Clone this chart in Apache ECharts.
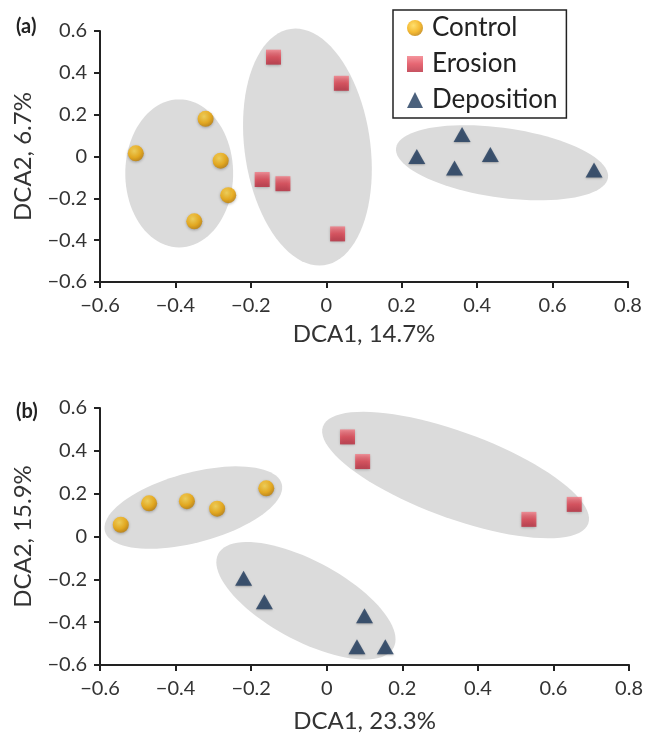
<!DOCTYPE html>
<html>
<head>
<meta charset="utf-8">
<script src="https://cdn.jsdelivr.net/npm/echarts@6/dist/echarts.min.js"></script>
<style>
  html, body { margin: 0; padding: 0; background: #fff; }
  #root { width: 646px; height: 736px; }
</style>
</head>
<body>
<div id="root"></div>
<script>
// 数据 (a)
const controlA = [[-0.505, 0.015], [-0.32, 0.18], [-0.28, -0.02], [-0.26, -0.185], [-0.35, -0.31]];
const erosionA = [[-0.14, 0.475], [0.04, 0.35], [-0.17, -0.11], [-0.115, -0.13], [0.03, -0.37]];
const depositionA = [[0.24, 0.0], [0.36, 0.105], [0.34, -0.055], [0.435, 0.01], [0.71, -0.065]];

// 数据 (b)
const controlB = [[-0.545, 0.055], [-0.47, 0.155], [-0.37, 0.165], [-0.29, 0.13], [-0.16, 0.225]];
const erosionB = [[0.055, 0.465], [0.095, 0.35], [0.535, 0.08], [0.655, 0.15]];
const depositionB = [[-0.22, -0.195], [-0.165, -0.305], [0.1, -0.37], [0.08, -0.515], [0.155, -0.515]];

// 椭圆: 中心, 半轴向量 u, 半轴向量 v (数据单位)
const ellipsesA = [
  [-0.39, -0.081, 0, 0.354, 0.143, 0],
  [-0.05, 0.045, -0.044, 0.565, 0.165, 0.042],
  [0.466, -0.03, 0.281, -0.071, -0.013, -0.165]
];
const ellipsesB = [
  [-0.353, 0.135, 0.234, 0.110, -0.023, 0.158],
  [-0.055, -0.30, 0.232, -0.219, -0.049, -0.165],
  [0.341, 0.287, 0.351, -0.227, -0.039, -0.189]
];

const xTicks = { min: -0.6, max: 0.8, interval: 0.2 };
const yTicks = { min: -0.6, max: 0.6, interval: 0.2 };
const xNames = ['DCA1, 14.7%', 'DCA1, 23.3%'];
const yNames = ['DCA2, 6.7%', 'DCA2, 15.9%'];
const panelTags = ['(a)', '(b)'];

const FONT = 'Lato';

let myChart = echarts.init(document.querySelector('#root'));

function fmt(v) {
  if (Math.abs(v) < 1e-9) return '0';
  return v.toFixed(1).replace('-', '\u2212');
}

function axisCommon() {
  return {
    axisLine: { onZero: false, lineStyle: { color: '#222', width: 2 } },
    axisTick: { show: true, length: 6, lineStyle: { color: '#222', width: 2 } },
    splitLine: { show: false },
    axisLabel: { color: '#333', fontSize: 20, fontFamily: FONT, formatter: fmt },
    nameTextStyle: { color: '#333', fontSize: 24, fontFamily: FONT }
  };
}

function renderEllipse(params, api) {
  const cx = api.value(0), cy = api.value(1);
  const ux = api.value(2), uy = api.value(3);
  const vx = api.value(4), vy = api.value(5);
  const pts = [];
  for (let i = 0; i < 90; i++) {
    const t = i / 90 * Math.PI * 2;
    pts.push(api.coord([cx + ux * Math.cos(t) + vx * Math.sin(t), cy + uy * Math.cos(t) + vy * Math.sin(t)]));
  }
  return {
    type: 'polygon',
    shape: { points: pts },
    style: { fill: '#dbdbdb' }
  };
}

const circleStyle = {
  color: new echarts.graphic.RadialGradient(0.4, 0.35, 0.7, [
    { offset: 0, color: '#ffd84a' },
    { offset: 0.6, color: '#f2a900' },
    { offset: 1, color: '#b87800' }
  ]),
  shadowColor: 'rgba(0,0,0,0.35)', shadowBlur: 3, shadowOffsetY: 1
};
const squareStyle = {
  color: new echarts.graphic.LinearGradient(0, 0, 0, 1, [
    { offset: 0, color: '#f27b85' },
    { offset: 0.5, color: '#e0404f' },
    { offset: 1, color: '#b8283a' }
  ]),
  shadowColor: 'rgba(0,0,0,0.35)', shadowBlur: 3, shadowOffsetY: 1
};
const triStyle = {
  color: '#1e3a5c',
  shadowColor: 'rgba(0,0,0,0.3)', shadowBlur: 2, shadowOffsetY: 1
};

function panelSeries(idx, ctrl, ero, dep, ells) {
  return [
    { type: 'custom', xAxisIndex: idx, yAxisIndex: idx, data: ells, renderItem: renderEllipse, z: 1, silent: true },
    { name: 'Control', type: 'scatter', xAxisIndex: idx, yAxisIndex: idx, data: ctrl, symbol: 'circle', symbolSize: 16, itemStyle: circleStyle, z: 3 },
    { name: 'Erosion', type: 'scatter', xAxisIndex: idx, yAxisIndex: idx, data: ero, symbol: 'rect', symbolSize: 15, itemStyle: squareStyle, z: 3 },
    { name: 'Deposition', type: 'scatter', xAxisIndex: idx, yAxisIndex: idx, data: dep, symbol: 'triangle', symbolSize: [17, 15], itemStyle: triStyle, z: 3 }
  ];
}

const nameGapX = [40, 44];

let option = {
  backgroundColor: '#fff',
  animation: false,
  title: [
    { text: panelTags[0], left: 11, top: 12, textStyle: { fontSize: 20, fontWeight: 'bold', fontFamily: FONT, color: '#222' } },
    { text: panelTags[1], left: 11, top: 397, textStyle: { fontSize: 20, fontWeight: 'bold', fontFamily: FONT, color: '#222' } }
  ],
  legend: {
    data: ['Control', 'Erosion', 'Deposition'],
    orient: 'vertical',
    left: 393, top: 10,
    padding: [5, 9, 5, 14],
    itemGap: 10,
    itemWidth: 16, itemHeight: 16,
    borderColor: '#222', borderWidth: 1.5,
    backgroundColor: '#fff',
    textStyle: { fontSize: 26, fontFamily: FONT, color: '#222', padding: [0, 0, 0, 4] }
  },
  grid: [
    { left: 100, top: 31, width: 528, height: 251 },
    { left: 100, top: 408, width: 532, height: 257 }
  ],
  xAxis: [0, 1].map(i => {
    const a = Object.assign(axisCommon(), {
      gridIndex: i, type: 'value', min: xTicks.min, max: xTicks.max, interval: xTicks.interval,
      name: xNames[i], nameLocation: 'middle', nameGap: nameGapX[i]
    });
    a.axisLabel.margin = 14;
    return a;
  }),
  yAxis: [0, 1].map(i => {
    const a = Object.assign(axisCommon(), {
      gridIndex: i, type: 'value', min: yTicks.min, max: yTicks.max, interval: yTicks.interval,
      name: yNames[i], nameLocation: 'middle', nameGap: 65
    });
    a.axisLabel.margin = 13;
    return a;
  }),
  series: [].concat(
    panelSeries(0, controlA, erosionA, depositionA, ellipsesA),
    panelSeries(1, controlB, erosionB, depositionB, ellipsesB)
  )
};

myChart.setOption(option);
</script>
</body>
</html>
